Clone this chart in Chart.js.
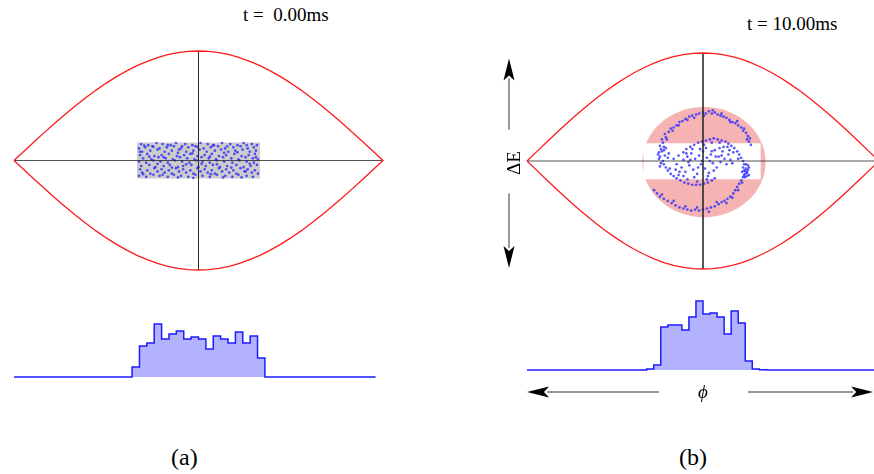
<!DOCTYPE html>
<html lang="en">
<head>
<meta charset="UTF-8">
<title>Bunch rotation in the RF bucket</title>
<script src="https://cdn.jsdelivr.net/npm/chart.js"></script>
<style>
  body { margin: 0; width: 874px; height: 474px; overflow: hidden; background: #fff; position: relative;
         font-family: "Liberation Serif", "DejaVu Serif", serif; color: #000; }
  canvas { position: absolute; }
  .lbl { position: absolute; white-space: pre; line-height: 1; }
  .time { font-size: 19px; }
  .panel { font-size: 24px; }
</style>
</head>
<body>
<div class="lbl time" style="left:243px;top:5px">t =  0.00ms</div>
<div class="lbl time" style="left:747px;top:14px">t = 10.00ms</div>
<div class="lbl panel" style="left:171px;top:445px">(a)</div>
<div class="lbl panel" style="left:679px;top:445px">(b)</div>

<canvas id="phaseA" width="389" height="239" style="left:4px;top:41px"></canvas>
<canvas id="histA" width="389" height="100" style="left:4px;top:287px"></canvas>
<canvas id="phaseB" width="399" height="236" style="left:490px;top:43px"></canvas>
<canvas id="histB" width="372" height="130" style="left:517px;top:280px"></canvas>

<script>
// separatrix of the stationary bucket, upper half (phase in deg, dE normalised)
const sepPhase = [-180,-170,-160,-150,-140,-130,-120,-110,-100,-90,-80,-70,-60,-50,-40,-30,-20,-10,0,
                  10,20,30,40,50,60,70,80,90,100,110,120,130,140,150,160,170,180];
const sepUpper = [0,0.087,0.174,0.259,0.342,0.423,0.5,0.574,0.643,0.707,0.766,0.819,0.866,0.906,0.94,0.966,0.985,0.996,1,
                  0.996,0.985,0.966,0.94,0.906,0.866,0.819,0.766,0.707,0.643,0.574,0.5,0.423,0.342,0.259,0.174,0.087,0];

// injected bunch: rectangular region and its macro-particles
const boxPhase = [-60, 60];
const boxDE = [-0.165, 0.165];
const partA = [
  [-56,0.15],[-49,0.14],[-41,0.16],[-35,0.15],[-27,0.14],[-22,0.16],[-13,0.15],[-6,0.14],[2,0.16],[9,0.15],[15,0.14],[23,0.16],[31,0.15],[38,0.14],[44,0.16],[52,0.15],[57,0.14],
  [-58,0.11],[-52,0.12],[-45,0.13],[-38,0.11],[-31,0.12],[-24,0.13],[-17,0.11],[-10,0.12],[-3,0.13],[5,0.11],[12,0.12],[19,0.13],[26,0.11],[34,0.12],[41,0.13],[48,0.11],[54,0.12],
  [-55,0.08],[-47,0.09],[-40,0.10],[-33,0.08],[-26,0.09],[-19,0.10],[-12,0.08],[-5,0.09],[1,0.10],[8,0.08],[16,0.09],[22,0.10],[29,0.08],[36,0.09],[43,0.10],[50,0.08],[56,0.09],
  [-57,0.05],[-50,0.06],[-43,0.04],[-36,0.05],[-29,0.06],[-21,0.04],[-14,0.05],[-8,0.06],[-1,0.04],[6,0.05],[13,0.06],[20,0.04],[27,0.05],[35,0.06],[42,0.04],[49,0.05],[55,0.06],
  [-54,0.02],[-46,0.01],[-39,0.03],[-32,0.02],[-25,0.01],[-18,0.03],[-11,0.02],[-4,0.01],[3,0.03],[10,0.02],[17,0.01],[24,0.03],[32,0.02],[39,0.01],[46,0.03],[53,0.02],[58,0.01],
  [-58,-0.01],[-51,-0.02],[-44,0],[-37,-0.01],[-30,-0.02],[-23,0],[-16,-0.01],[-9,-0.02],[-2,0],[4,-0.01],[11,-0.02],[18,0],[25,-0.01],[33,-0.02],[40,0],[47,-0.01],[54,-0.02],
  [-56,-0.05],[-48,-0.04],[-42,-0.06],[-34,-0.05],[-28,-0.04],[-20,-0.06],[-15,-0.05],[-7,-0.04],[0,-0.06],[7,-0.05],[14,-0.04],[21,-0.06],[28,-0.05],[37,-0.04],[44,-0.06],[51,-0.05],[57,-0.04],
  [-57,-0.08],[-50,-0.09],[-43,-0.07],[-36,-0.08],[-29,-0.09],[-22,-0.07],[-15,-0.08],[-8,-0.09],[-1,-0.07],[6,-0.08],[13,-0.09],[20,-0.07],[27,-0.08],[34,-0.09],[41,-0.07],[48,-0.08],[55,-0.09],
  [-55,-0.11],[-47,-0.12],[-40,-0.10],[-33,-0.11],[-26,-0.12],[-19,-0.10],[-12,-0.11],[-5,-0.12],[2,-0.10],[9,-0.11],[16,-0.12],[23,-0.10],[30,-0.11],[37,-0.12],[45,-0.10],[52,-0.11],[58,-0.12],
  [-58,-0.14],[-51,-0.15],[-44,-0.13],[-38,-0.14],[-30,-0.15],[-24,-0.13],[-17,-0.14],[-10,-0.15],[-3,-0.13],[4,-0.14],[11,-0.15],[18,-0.13],[26,-0.14],[33,-0.15],[39,-0.13],[47,-0.14],[53,-0.15],
  [-53,0.135],[-44,0.125],[-30,0.14],[-16,0.13],[-1,0.125],[14,0.135],[28,0.13],[47,0.14],
  [-48,0.035],[-34,0.03],[-20,0.07],[-6,0.065],[11,0.035],[25,0.07],[38,0.075],[50,-0.03],
  [-40,-0.03],[-26,-0.065],[-12,-0.035],[3,-0.03],[18,-0.035],[32,-0.065],[46,-0.1],[-54,-0.125],
  [-35,-0.13],[-20,-0.155],[-5,-0.16],[12,-0.125],[24,-0.155],[42,-0.155],[56,0.03],[-57,0.08]
];

// after 10 ms: matched area (ellipse), initial box and filamented particles
const ellipseB = { phi: 1, dE: -0.01, rPhi: 63, rDE: 0.51 };
const bandPhase = [-61, 59];
const bandDE = [-0.17, 0.165];
const partB = [
  // outer arm, upper
  [-44,0.04],[-45,0.08],[-43,0.11],[-44,0.14],[-41,0.17],[-42,0.20],[-38,0.22],[-39,0.25],[-35,0.27],[-33,0.30],[-30,0.31],[-27,0.33],[-24,0.36],
  [-21,0.37],[-18,0.39],[-14,0.41],[-11,0.42],[-7,0.43],[-4,0.44],[0,0.45],[3,0.44],[6,0.46],[9,0.44],[12,0.45],[15,0.43],[18,0.42],[21,0.41],
  [24,0.40],[27,0.38],[30,0.36],[33,0.35],[36,0.33],[39,0.31],[41,0.28],[44,0.26],[46,0.23],[48,0.21],[47,0.18],[49,0.15],
  [-40,0.13],[-37,0.20],[-31,0.28],[-25,0.33],[-16,0.38],[-9,0.40],[1,0.42],[10,0.47],[19,0.44],[28,0.36],[35,0.37],[42,0.30],[45,0.20],
  // outer arm, lower
  [-50,-0.27],[-47,-0.30],[-44,-0.33],[-40,-0.35],[-36,-0.37],[-32,-0.39],[-28,-0.41],[-24,-0.43],[-20,-0.44],[-16,-0.45],[-12,-0.46],[-8,-0.45],
  [-4,-0.46],[0,-0.45],[4,-0.44],[8,-0.43],[12,-0.42],[16,-0.40],[19,-0.38],[22,-0.37],[25,-0.35],[28,-0.33],[31,-0.30],[33,-0.27],[35,-0.24],
  [37,-0.21],[39,-0.18],[41,-0.15],[43,-0.12],[45,-0.10],[44,-0.07],[46,-0.04],
  [-42,-0.31],[-30,-0.37],[-18,-0.42],[-6,-0.43],[6,-0.47],[14,-0.38],[24,-0.39],[30,-0.34],[36,-0.27],[40,-0.20],[42,-0.09],[47,-0.13],
  [41,-0.06],[43,-0.09],[45,-0.11],[42,-0.13],[46,-0.08],[44,-0.03],[47,-0.06],[40,-0.10],[43,-0.15],[45,-0.14],
  // inner spiral, upper
  [-20,0.08],[-17,0.11],[-13,0.13],[-9,0.15],[-5,0.17],[-1,0.18],[3,0.19],[7,0.20],[11,0.21],[15,0.20],[19,0.19],[23,0.18],[26,0.16],[29,0.14],
  [32,0.12],[35,0.09],[37,0.06],[39,0.03],[41,0.00],[42,-0.03],[-11,0.11],[1,0.15],[9,0.17],[17,0.17],[25,0.13],[31,0.08],[36,0.02],
  // inner spiral, lower
  [-41,0.00],[-40,-0.03],[-38,-0.06],[-36,-0.09],[-33,-0.12],[-30,-0.14],[-27,-0.16],[-23,-0.18],[-19,-0.20],[-15,-0.21],[-11,-0.22],
  [-7,-0.22],[-3,-0.22],[1,-0.21],[5,-0.20],[9,-0.18],[12,-0.16],[-34,-0.07],[-25,-0.13],[-16,-0.17],[-6,-0.19],[4,-0.17],
  [-45,0.02],[-43,-0.02],[-46,0.06],[-42,0.09],[-39,0.05],[-36,0.03],[-40,0.10],[-44,-0.05],[-38,0.12],[-35,0.07],
  // core
  [-30,0.02],[-27,-0.03],[-25,0.05],[-22,-0.06],[-20,0.01],[-18,-0.10],[-16,0.04],[-14,-0.04],[-12,0.07],[-10,-0.08],[-8,0.02],[-6,-0.12],
  [-4,0.05],[-2,-0.03],[0,0.09],[2,-0.07],[4,0.03],[6,-0.11],[8,0.06],[10,-0.02],[12,0.10],[14,-0.06],[16,0.04],[18,-0.01],[20,0.09],
  [22,0.02],[24,-0.03],[26,0.06],[28,0.01],[30,-0.02],[-24,-0.10],[-20,-0.14],[-13,0.01],[-9,-0.15],[-3,0.11],[3,0.12],[5,-0.14],[9,0.09],
  [13,0.04],[17,0.12],[-28,-0.08],[-17,0.07],[-1,0.0],[7,0.0],[21,0.13],[27,0.10],[11,-0.09],[-5,-0.06],[-15,-0.01],[19,0.05]
];

// longitudinal profiles: bin edges (deg) and counts per bin
const binEdges = [-64.8,-57.6,-50.4,-43.2,-36,-28.8,-21.6,-14.4,-7.2,0,7.2,14.4,21.6,28.8,36,43.2,50.4,57.6,64.8];
const countsA = [10,31,34,53,38,43,46,38,40,38,28,41,38,34,45,34,41,19];
const countsB = [0,1,5,43,45,45,40,53,69,56,57,53,36,59,47,9,1,0.3];

const serif = '"Liberation Serif", "DejaVu Serif", serif';

function toXY(pairs) { return pairs.map(p => ({ x: p[0], y: p[1] })); }

function separatrix() {
  const upper = sepPhase.map((p, i) => ({ x: p, y: sepUpper[i] }));
  const lower = sepPhase.map((p, i) => ({ x: p, y: -sepUpper[i] })).reverse();
  return upper.concat(lower);
}

// filled shapes under the particles, placed through the chart scales
function shapesPlugin(shapes) {
  return {
    id: 'shapes',
    beforeDatasetsDraw(chart) {
      const { ctx, scales: { x, y } } = chart;
      ctx.save();
      shapes.forEach(s => {
        ctx.fillStyle = s.color;
        ctx.beginPath();
        if (s.kind === 'ellipse') {
          const cx = x.getPixelForValue(s.phi), cy = y.getPixelForValue(s.dE);
          const rx = Math.abs(x.getPixelForValue(s.phi + s.rPhi) - cx);
          const ry = Math.abs(y.getPixelForValue(s.dE + s.rDE) - cy);
          ctx.ellipse(cx, cy, rx, ry, 0, 0, Math.PI * 2);
        } else {
          const x0 = x.getPixelForValue(s.phase[0]), x1 = x.getPixelForValue(s.phase[1]);
          const y0 = y.getPixelForValue(s.dE[1]), y1 = y.getPixelForValue(s.dE[0]);
          ctx.rect(x0, y0, x1 - x0, y1 - y0);
        }
        ctx.fill();
      });
      ctx.restore();
    }
  };
}

// filled arrow head with a notched back, base point (xb,yb), tip (xt,yt)
function arrowHead(ctx, xb, yb, xt, yt) {
  const a = Math.atan2(yt - yb, xt - xb);
  const len = Math.hypot(xt - xb, yt - yb), w = 5.5;
  ctx.save();
  ctx.translate(xt, yt);
  ctx.rotate(a);
  ctx.beginPath();
  ctx.moveTo(0, 0);
  ctx.lineTo(-len, -w);
  ctx.lineTo(-len + 5, 0);
  ctx.lineTo(-len, w);
  ctx.closePath();
  ctx.fillStyle = '#000';
  ctx.fill();
  ctx.restore();
}

function phaseChart(id, parts, shapes, extra) {
  return new Chart(document.getElementById(id), {
    type: 'scatter',
    data: {
      datasets: [
        { data: separatrix(), showLine: true, pointRadius: 0, borderColor: '#ff1a1a', borderWidth: 1.3, clip: false },
        { data: [{ x: -180, y: 0 }, { x: 180, y: 0 }], showLine: true, pointRadius: 0, borderColor: 'rgba(40,40,40,0.8)', borderWidth: 1, clip: false },
        { data: [{ x: 0, y: 1 }, { x: 0, y: -1 }], showLine: true, pointRadius: 0, borderColor: 'rgba(40,40,40,0.8)', borderWidth: 1, clip: false },
        { data: toXY(parts), pointRadius: 1.35, pointBorderWidth: 0, backgroundColor: 'rgba(45,45,255,0.8)' }
      ]
    },
    options: {
      responsive: false,
      animation: false,
      layout: { padding: extra.padding },
      scales: {
        x: { type: 'linear', min: -180, max: 180, display: false },
        y: { type: 'linear', min: -1, max: 1, display: false }
      },
      plugins: { legend: { display: false }, tooltip: { enabled: false } }
    },
    plugins: [shapesPlugin(shapes)].concat(extra.plugins || [])
  });
}

function histData(counts, xEnd) {
  const pts = [{ x: -180, y: 0 }];
  counts.forEach((c, i) => pts.push({ x: binEdges[i], y: c }));
  pts.push({ x: binEdges[counts.length], y: 0 });
  pts.push({ x: xEnd, y: 0 });
  return pts;
}

function histChart(id, counts, xEnd, padding, plugins) {
  return new Chart(document.getElementById(id), {
    type: 'line',
    data: {
      datasets: [{
        data: histData(counts, xEnd),
        stepped: 'before',
        borderColor: '#1c1cff',
        borderWidth: 1.5,
        backgroundColor: 'rgba(0,0,255,0.3)',
        fill: 'origin',
        pointRadius: 0,
        clip: false
      }]
    },
    options: {
      responsive: false,
      animation: false,
      layout: { padding },
      scales: {
        x: { type: 'linear', min: -180, max: 180, display: false },
        y: { min: 0, max: 80, display: false }
      },
      plugins: { legend: { display: false }, tooltip: { enabled: false } }
    },
    plugins: plugins || []
  });
}

// energy axis arrow left of panel (b)
const dEArrow = {
  id: 'dEArrow',
  afterDraw(chart) {
    const { ctx, chartArea, scales: { y } } = chart;
    const ax = chartArea.left - 18;
    const tipTop = y.getPixelForValue(0.95), tipBot = y.getPixelForValue(-0.99);
    ctx.save();
    ctx.strokeStyle = '#333';
    ctx.lineWidth = 1;
    ctx.beginPath();
    ctx.moveTo(ax, tipTop + 20); ctx.lineTo(ax, y.getPixelForValue(0.29));
    ctx.moveTo(ax, y.getPixelForValue(-0.3)); ctx.lineTo(ax, tipBot - 20);
    ctx.stroke();
    arrowHead(ctx, ax, tipTop + 22, ax, tipTop);
    arrowHead(ctx, ax, tipBot - 22, ax, tipBot);
    ctx.translate(ax + 6, y.getPixelForValue(-0.02));
    ctx.rotate(-Math.PI / 2);
    ctx.fillStyle = '#000';
    ctx.font = '19px ' + serif;
    ctx.textAlign = 'center';
    ctx.textBaseline = 'middle';
    ctx.fillText('ΔE', 0, 0);
    ctx.restore();
  }
};

// phase axis arrow under profile (b)
const phiArrow = {
  id: 'phiArrow',
  afterDraw(chart) {
    const { ctx, chartArea, scales: { x } } = chart;
    const ay = chartArea.bottom + 22;
    const tipL = x.getPixelForValue(-180), tipR = x.getPixelForValue(174);
    ctx.save();
    ctx.strokeStyle = '#333';
    ctx.lineWidth = 1;
    ctx.beginPath();
    ctx.moveTo(tipL + 20, ay); ctx.lineTo(x.getPixelForValue(-45), ay);
    ctx.moveTo(x.getPixelForValue(46), ay); ctx.lineTo(tipR - 20, ay);
    ctx.stroke();
    arrowHead(ctx, tipL + 22, ay, tipL, ay);
    arrowHead(ctx, tipR - 22, ay, tipR, ay);
    ctx.fillStyle = '#000';
    ctx.font = 'italic 19px ' + serif;
    ctx.textAlign = 'center';
    ctx.textBaseline = 'middle';
    ctx.fillText('ϕ', x.getPixelForValue(0), ay + 1);
    ctx.restore();
  }
};

phaseChart('phaseA', partA,
  [{ kind: 'rect', phase: boxPhase, dE: boxDE, color: '#cccccc' }],
  { padding: 10 });

phaseChart('phaseB', partB,
  [{ kind: 'ellipse', ...ellipseB, color: '#f5b3b3' },
   { kind: 'rect', phase: bandPhase, dE: bandDE, color: '#ffffff' }],
  { padding: { left: 37, right: 10, top: 10, bottom: 10 }, plugins: [dEArrow] });

histChart('histA', countsA, 172.8, 10);
histChart('histB', countsB, 180, { left: 10, right: 10, top: 10, bottom: 40 }, [phiArrow]);
</script>
</body>
</html>
